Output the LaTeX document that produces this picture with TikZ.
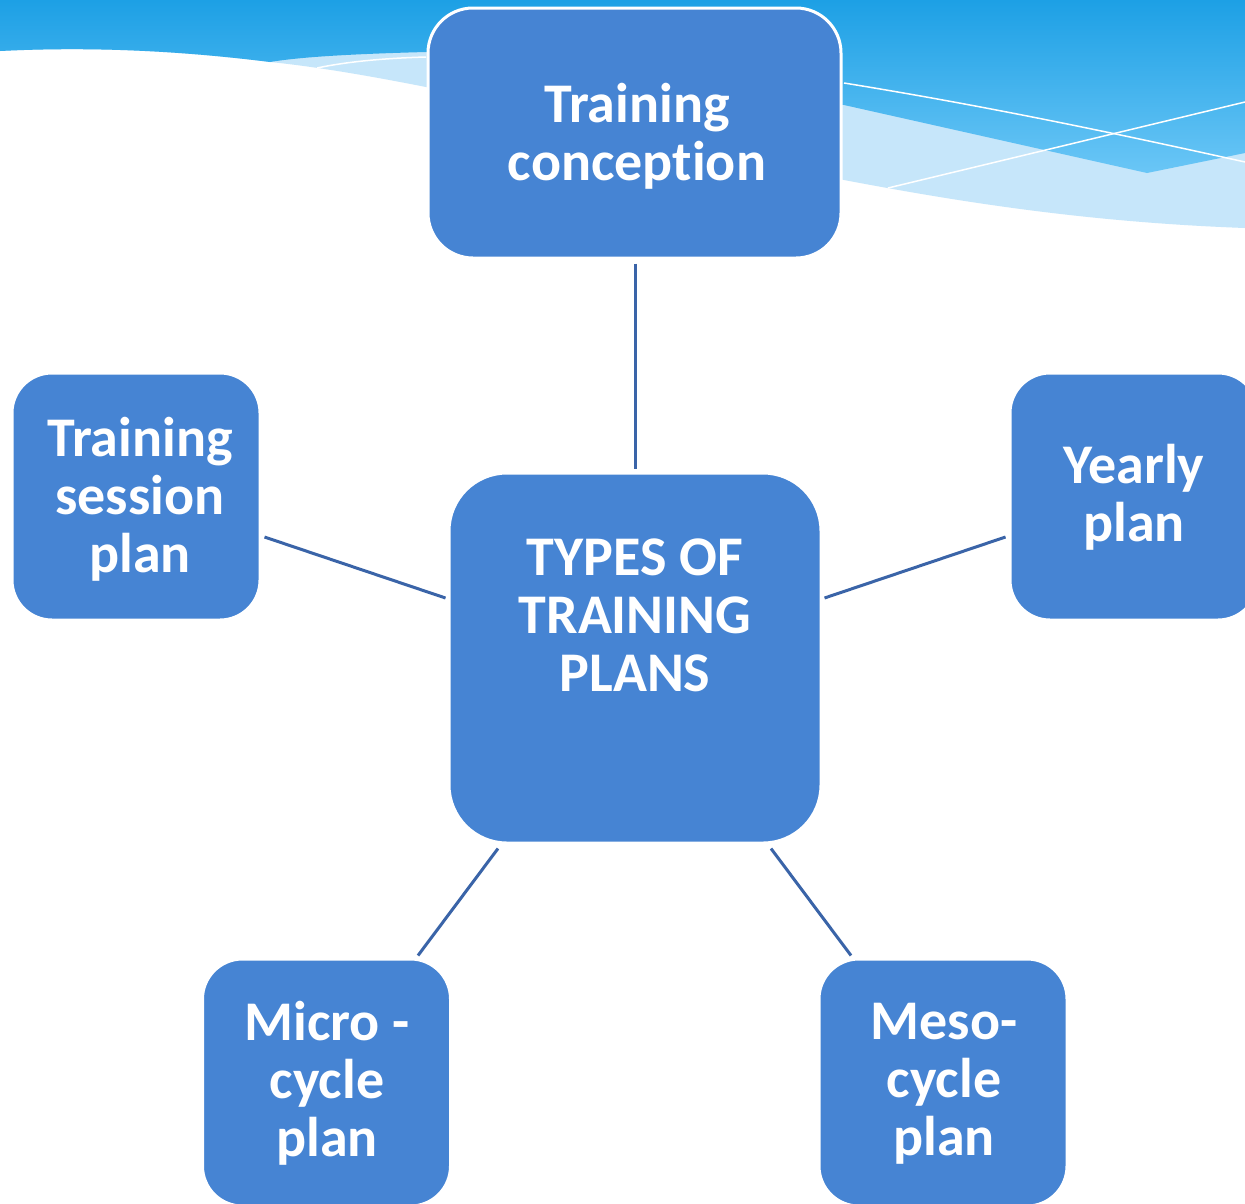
\documentclass[tikz,border=0pt]{standalone}
\usepackage{fontspec}
\setmainfont{Carlito}[Ligatures=NoCommon]
\usetikzlibrary{calc}
\definecolor{boxblue}{RGB}{70,132,211}
\definecolor{linkblue}{RGB}{58,100,168}
\definecolor{skytop}{RGB}{29,160,229}
\definecolor{skybot}{RGB}{106,198,246}
\definecolor{palesky}{RGB}{198,230,250}
\tikzset{
  planbox/.style={draw=white, line width=3, fill=boxblue, rounded corners=40,
    minimum width=248, minimum height=247, inner sep=0},
  plantext/.style={text=white, align=center, inner sep=0,
    font=\fontsize{56}{58}\selectfont\bfseries},
  conn/.style={draw=linkblue, line width=3},
  wave/.style={draw=white, line width=1.5}
}
\begin{document}
\begin{tikzpicture}[x=1pt,y=-1pt]
\useasboundingbox (0,0) rectangle (1245,1203);
\clip (0,0) rectangle (1245,1203);
\fill[white] (0,0) rectangle (1245,1203);
% pale band
\fill[palesky] (0,0) -- (1245,0) -- (1245,228)
  .. controls (1080,222) and (950,200) .. (844,180)
  -- (635,130) -- (426,87)
  .. controls (360,74) and (310,66) .. (270,62)
  .. controls (190,52) and (100,46) .. (0,51) -- cycle;
% blue gradient band
\shade[top color=skytop, bottom color=skybot]
  (0,0) -- (1245,0) -- (1245,153) -- (1147,173) -- (844,105)
  -- (635,75) -- (426,52)
  .. controls (350,54) and (300,57) .. (270,62)
  .. controls (190,52) and (100,46) .. (0,51) -- cycle;
% thin white lines
\draw[wave] (844,83) .. controls (980,105) and (1110,132) .. (1245,162);
\draw[wave] (888,188) -- (1245,102);
\draw[wave] (317,68) .. controls (350,61) and (390,58) .. (426,57);
% boxes
\node[planbox, rounded corners=45, minimum width=413, minimum height=250] (top) at (634.5,133) {};
\node[planbox] (lb) at (136,496.5) {};
\node[planbox] (rb) at (1134,496.5) {};
\node[planbox, rounded corners=58, minimum width=372, minimum height=370] (ctr) at (635,658) {};
\node[planbox] (bl) at (326.5,1082.5) {};
\node[planbox] (br) at (943,1082.5) {};
% texts
\node[plantext] (ttop) at (637,136) {Training\\conception};
\node[plantext] (tlb) at (140,499) {Training\\session\\plan};
\node[plantext] (trb) at (1134,497) {Yearly\\plan};
\node[plantext] (tctr) at (635,615) {TYPES OF\\TRAINING\\PLANS};
\node[plantext] (tbl) at (327,1083) {Micro -\\cycle\\plan};
\node[plantext] (tbr) at (944,1084) {Meso-\\cycle\\plan};
% connectors
\draw[conn] ($(top.south)+(0.5,4)$) -- ($(ctr.north)+(0,-3)$);
\draw[conn] ($(lb.east)+(3,40.5)$) -- ($(ctr.west)+(-2,-60)$);
\draw[conn] ($(ctr.east)+(2,-60)$) -- ($(rb.west)+(-3,40.5)$);
\draw[conn] ($(ctr.south)+(-137,4)$) -- ($(bl.north)+(91.5,-2)$);
\draw[conn] ($(ctr.south)+(136,4)$) -- ($(br.north)+(-92,-2)$);
\end{tikzpicture}
\end{document}
